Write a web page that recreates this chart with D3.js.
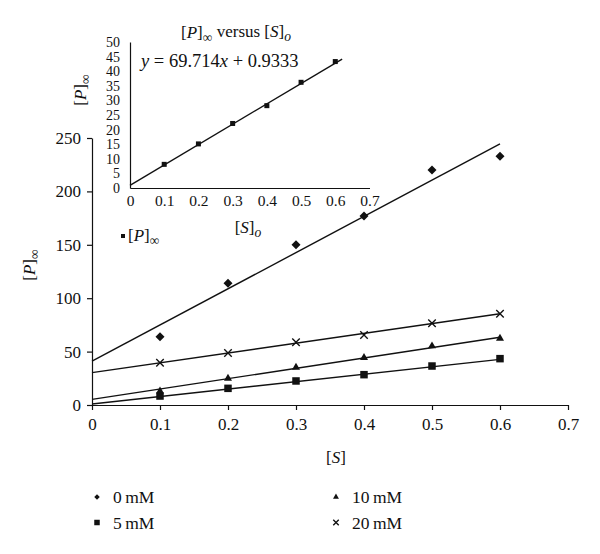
<!DOCTYPE html>
<html>
<head>
<meta charset="utf-8">
<script src="https://cdn.jsdelivr.net/npm/d3@7"></script>
<style>
	body { margin: 0; background: #fff; }
	text { font-family: "Liberation Serif", "DejaVu Serif", serif; fill: #111; }
	.domain, .tick line { stroke: #111; stroke-width: 1.2; }
</style>
</head>
<body>
<script>
// values
var sValues = [0.1, 0.2, 0.3, 0.4, 0.5, 0.6];
var p0mM  = [64, 114, 150, 177, 220, 233];
var p5mM  = [8.4, 15.6, 22.5, 28.4, 36.5, 43.4];
var p10mM = [13, 25, 35.3, 44.3, 55.2, 62.4];
var p20mM = [39.6, 48.7, 58.7, 65.5, 76.5, 85.5];
var seriesNames = ["0 mM", "5 mM", "10 mM", "20 mM"];
// trend lines (slope, intercept) as drawn
var fitSlopes = [339, 69.714, 96.8, 92];
var fitIntercepts = [41, 0.9333, 5.3, 30.3];

// inset: [P]inf versus [S]o
var insetS = [0.1, 0.2, 0.3, 0.4, 0.5, 0.6];
var insetP = [8.1, 15.1, 22.1, 28.2, 36.2, 43.3];
var insetSlope = 69.714,
	insetIntercept = 0.9333;

var mainXTicks = [0, 0.1, 0.2, 0.3, 0.4, 0.5, 0.6, 0.7];
var mainYTicks = [0, 50, 100, 150, 200, 250];
var insetYTicks = [0, 5, 10, 15, 20, 25, 30, 35, 40, 45, 50];

var svg, x, y, ix, iy;

function init() {
	svg = d3.select("body").append("svg")
		.attr("width", 600)
		.attr("height", 554);

	x = d3.scaleLinear().domain([0, 0.7]).range([92, 568]);
	y = d3.scaleLinear().domain([0, 250]).range([405, 138]);
	ix = d3.scaleLinear().domain([0, 0.7]).range([130, 369.5]);
	iy = d3.scaleLinear().domain([0, 50]).range([188, 42]);

	drawMain();
	drawInset();
	drawLegend();
}

// [P] with subscript infinity
function bracketLabel(sel, letter, sub) {
	sel.append("tspan").text("[");
	sel.append("tspan").attr("font-style", "italic").text(letter);
	sel.append("tspan").text("]");
	sel.append("tspan")
		.attr("font-size", "0.8em")
		.attr("dy", "0.3em")
		.text(sub);
}

function marker(g, kind, cx, cy, s) {
	if (kind == 0) {
		g.append("path")
			.attr("d", d3.symbol(d3.symbolSquare, s * s * 0.5)())
			.attr("transform", "translate(" + cx + "," + cy + ") rotate(45)");
	} else if (kind == 1) {
		g.append("path")
			.attr("d", d3.symbol(d3.symbolSquare, s * s)())
			.attr("transform", "translate(" + cx + "," + cy + ")");
	} else if (kind == 2) {
		g.append("path")
			.attr("d", d3.symbol(d3.symbolTriangle, s * s * 0.5)())
			.attr("transform", "translate(" + cx + "," + cy + ")");
	} else {
		var h = s / 2;
		g.append("path")
			.attr("d", "M" + (cx - h) + "," + (cy - h) + "L" + (cx + h) + "," + (cy + h) +
				"M" + (cx - h) + "," + (cy + h) + "L" + (cx + h) + "," + (cy - h))
			.attr("stroke", "#111")
			.attr("stroke-width", 1.4)
			.attr("fill", "none");
	}
}

function drawMain() {
	svg.append("g")
		.attr("transform", "translate(0,405)")
		.call(d3.axisBottom(x).tickValues(mainXTicks).tickSize(5).tickSizeOuter(0).tickPadding(8)
			.tickFormat(d3.format("")))
		.call(function(g) { g.selectAll("text").attr("font-size", 17).attr("font-family", null); });

	svg.append("g")
		.attr("transform", "translate(92,0)")
		.call(d3.axisLeft(y).tickValues(mainYTicks).tickSize(5).tickSizeOuter(0).tickPadding(6))
		.call(function(g) { g.selectAll("text").attr("font-size", 17).attr("font-family", null); });

	var series = [p0mM, p5mM, p10mM, p20mM];
	var line = d3.line().x(function(d) { return x(d[0]); }).y(function(d) { return y(d[1]); });

	series.forEach(function(vals, k) {
		var ends = [0, 0.6].map(function(s) { return [s, fitSlopes[k] * s + fitIntercepts[k]]; });
		svg.append("path")
			.attr("d", line(ends))
			.attr("fill", "none")
			.attr("stroke", "#111")
			.attr("stroke-width", 1.4);
	});

	var marks = svg.append("g").attr("fill", "#111");
	series.forEach(function(vals, k) {
		vals.forEach(function(v, i) {
			marker(marks, k, x(sValues[i]), y(v), k == 0 ? 9 : 7.5);
		});
	});

	var yl = svg.append("text")
		.attr("transform", "translate(35,265) rotate(-90)")
		.attr("text-anchor", "middle")
		.attr("font-size", 17);
	bracketLabel(yl, "P", "\u221e");

	var xl = svg.append("text")
		.attr("x", 336)
		.attr("y", 463)
		.attr("text-anchor", "middle")
		.attr("font-size", 17);
	xl.append("tspan").text("[");
	xl.append("tspan").attr("font-style", "italic").text("S");
	xl.append("tspan").text("]");
}

function drawInset() {
	var g = svg.append("g");

	g.append("g")
		.attr("transform", "translate(0,188)")
		.call(d3.axisBottom(ix).tickValues(mainXTicks).tickSize(0).tickSizeOuter(0).tickPadding(7)
			.tickFormat(d3.format("")))
		.call(function(a) { a.selectAll("text").attr("font-size", 15.5).attr("font-family", null); });

	g.append("g")
		.attr("transform", "translate(130,0)")
		.call(d3.axisLeft(iy).tickValues(insetYTicks).tickSize(0).tickSizeOuter(0).tickPadding(10))
		.call(function(a) { a.selectAll("text").attr("font-size", 14).attr("font-family", null); });

	var line = d3.line().x(function(d) { return ix(d[0]); }).y(function(d) { return iy(d[1]); });
	var ends = [0, 0.62].map(function(s) { return [s, insetSlope * s + insetIntercept]; });
	g.append("path")
		.attr("d", line(ends))
		.attr("fill", "none")
		.attr("stroke", "#111")
		.attr("stroke-width", 1.4);

	g.selectAll(".ipt")
		.data(insetP)
		.enter().append("rect")
		.attr("class", "ipt")
		.attr("x", function(d, i) { return ix(insetS[i]) - 2.5; })
		.attr("y", function(d) { return iy(d) - 2.5; })
		.attr("width", 5)
		.attr("height", 5)
		.attr("fill", "#111");

	var title = g.append("text")
		.attr("x", 236)
		.attr("y", 38)
		.attr("text-anchor", "middle")
		.attr("font-size", 17);
	bracketLabel(title, "P", "\u221e");
	title.append("tspan").attr("dy", "-0.3em").text(" versus [");
	title.append("tspan").attr("font-style", "italic").text("S");
	title.append("tspan").text("]");
	title.append("tspan").attr("font-size", "0.8em").attr("font-style", "italic").attr("dy", "0.3em").text("o");

	var eq = g.append("text")
		.attr("x", 141)
		.attr("y", 67)
		.attr("font-size", 18.5);
	eq.append("tspan").attr("font-style", "italic").text("y");
	eq.append("tspan").text(" = 69.714");
	eq.append("tspan").attr("font-style", "italic").text("x");
	eq.append("tspan").text(" + " + insetIntercept);

	var iyl = g.append("text")
		.attr("transform", "translate(86,90) rotate(-90)")
		.attr("text-anchor", "middle")
		.attr("font-size", 17);
	bracketLabel(iyl, "P", "\u221e");

	var ixl = g.append("text")
		.attr("x", 248)
		.attr("y", 233)
		.attr("text-anchor", "middle")
		.attr("font-size", 17);
	ixl.append("tspan").text("[");
	ixl.append("tspan").attr("font-style", "italic").text("S");
	ixl.append("tspan").text("]");
	ixl.append("tspan").attr("font-size", "0.8em").attr("font-style", "italic").attr("dy", "0.3em").text("o");

	g.append("rect")
		.attr("x", 121)
		.attr("y", 234)
		.attr("width", 4)
		.attr("height", 4)
		.attr("fill", "#111");
	var il = g.append("text")
		.attr("x", 128)
		.attr("y", 241)
		.attr("font-size", 17);
	bracketLabel(il, "P", "\u221e");
}

function drawLegend() {
	var pos = [[97, 497], [97, 522.5], [336, 497], [336, 522.5]];
	var lg = svg.append("g").attr("fill", "#111");
	seriesNames.forEach(function(name, k) {
		marker(lg, k, pos[k][0], pos[k][1], 5.5);
		lg.append("text")
			.attr("x", pos[k][0] + 16)
			.attr("y", pos[k][1] + 6)
			.attr("font-size", 17.5)
			.text(name.replace(" ", "\u2009"));
	});
}

window.onload = init;
</script>
</body>
</html>
